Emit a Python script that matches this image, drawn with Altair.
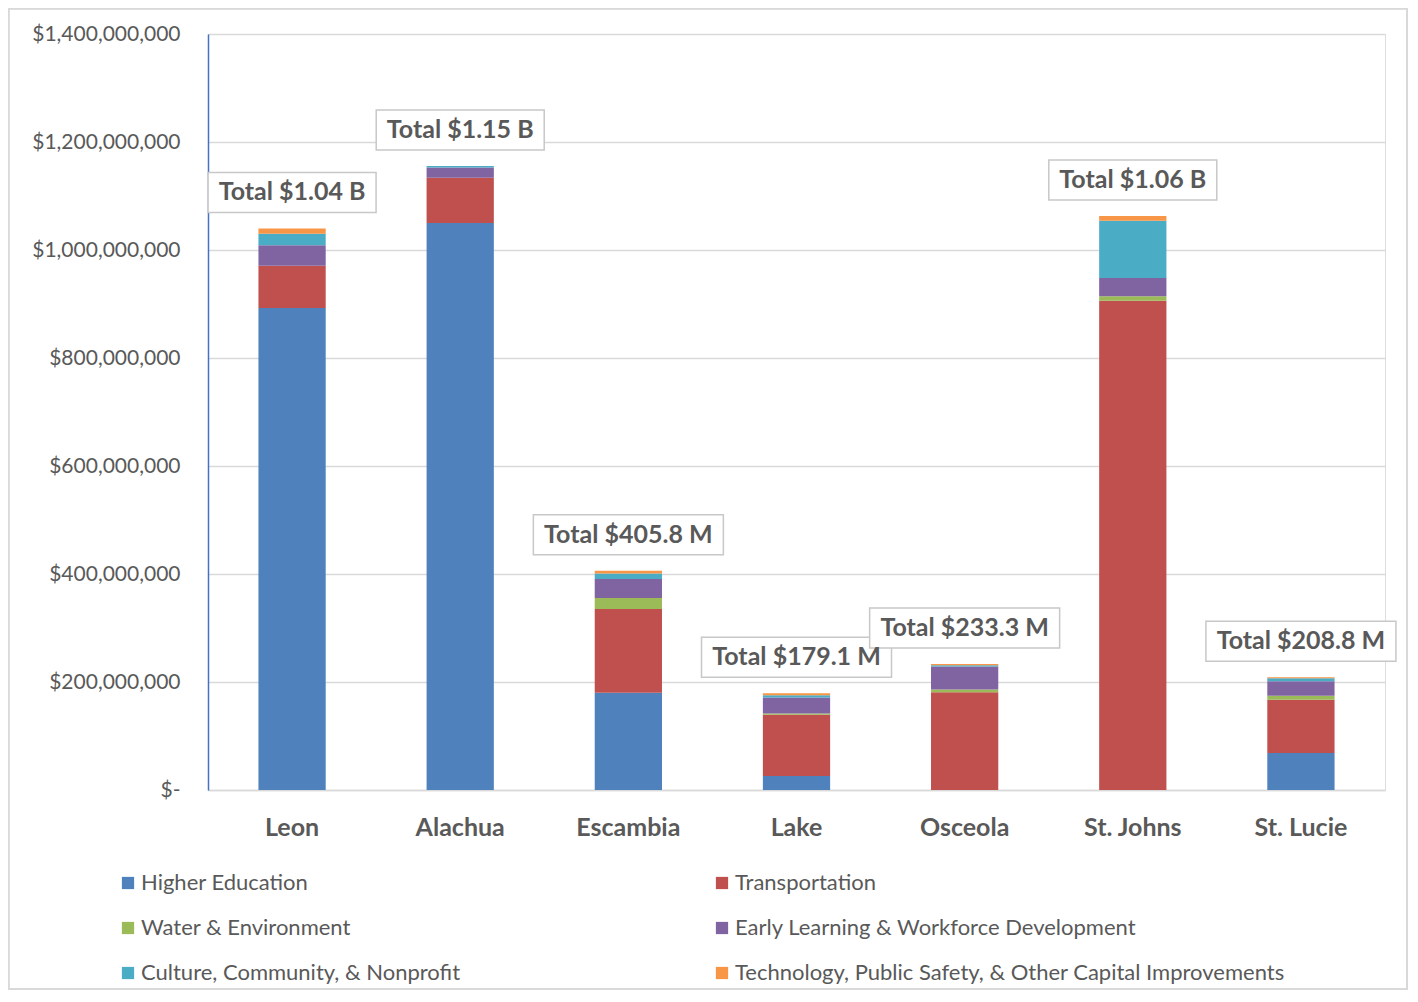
import altair as alt
import pandas as pd

counties = ["Leon", "Alachua", "Escambia", "Lake", "Osceola", "St. Johns", "St. Lucie"]
categories = [
    "Higher Education",
    "Transportation",
    "Water & Environment",
    "Early Learning & Workforce Development",
    "Culture, Community, & Nonprofit",
    "Technology, Public Safety, & Other Capital Improvements",
]
colors = ["#4F81BD", "#C0504D", "#9BBB59", "#8064A2", "#4BACC6", "#F79646"]

# values in millions of dollars
higher_ed = [892.5, 1050.0, 180.0, 26.0, 0.0, 0.0, 68.5]
transportation = [78.5, 84.0, 155.0, 113.5, 181.0, 906.0, 98.8]
water = [0.0, 0.0, 20.6, 2.0, 5.0, 8.3, 7.4]
early_learning = [38.0, 18.6, 35.0, 29.6, 42.6, 34.0, 26.6]
culture = [21.0, 3.0, 10.5, 4.5, 2.6, 106.0, 5.6]
technology = [10.0, 0.0, 4.7, 3.5, 2.1, 8.7, 1.9]
total_labels = ["Total $1.04 B", "Total $1.15 B", "Total $405.8 M", "Total $179.1 M",
                "Total $233.3 M", "Total $1.06 B", "Total $208.8 M"]

series = [higher_ed, transportation, water, early_learning, culture, technology]
rows = []
for ci, (cat, vals) in enumerate(zip(categories, series)):
    for county, v in zip(counties, vals):
        rows.append({"county": county, "category": cat, "order": ci, "value": v * 1e6})
df = pd.DataFrame(rows)

tot = []
for i, county in enumerate(counties):
    t = sum(s[i] for s in series) * 1e6
    tot.append({"county": county, "total": t, "label": total_labels[i],
                "long": len(total_labels[i]) > 13})
tdf = pd.DataFrame(tot)

W, H = 1177, 756
YMAX = 1.4e9
PX = YMAX / H  # dollars per pixel

FONT = "Lato"
GRAY = "#595959"

xenc = alt.X("county:N", sort=counties, title=None,
             scale=alt.Scale(paddingInner=0.6, paddingOuter=0.3),
             axis=alt.Axis(labelFontSize=25, labelFontWeight="bold", labelColor=GRAY,
                           labelFont=FONT, labelPadding=25, ticks=False, labelAngle=0,
                           domainColor="#d9d9d9", domainWidth=1.5))

bars = alt.Chart(df).mark_bar().encode(
    x=xenc,
    y=alt.Y("value:Q", stack="zero", title=None,
            scale=alt.Scale(domain=[0, YMAX], nice=False),
            axis=alt.Axis(values=[0, 2e8, 4e8, 6e8, 8e8, 1e9, 1.2e9, 1.4e9],
                          labelExpr="datum.value == 0 ? '$-' : '$' + format(datum.value, ',')",
                          labelFontSize=21, labelColor=GRAY, labelFont=FONT,
                          labelPadding=28, ticks=False,
                          domainColor="#4472C4", domainWidth=1.5,
                          grid=True, gridColor="#d9d9d9", gridWidth=1.5)),
    color=alt.Color("category:N", sort=categories,
                    scale=alt.Scale(domain=categories, range=colors),
                    legend=alt.Legend(title=None, orient="none", legendX=-91, legendY=838,
                                      direction="horizontal",
                                      columns=2, columnPadding=250, rowPadding=23,
                                      symbolType="square", symbolSize=150,
                                      symbolStrokeWidth=0,
                                      labelFontSize=22, labelColor=GRAY, labelFont=FONT,
                                      labelLimit=800, labelOffset=2)),
    order=alt.Order("order:Q", sort="ascending"),
)

base = alt.Chart(tdf).transform_calculate(
    ymid=f"datum.total + 36 * {PX}",
    ylo=f"datum.total + 16 * {PX}",
    yhi=f"datum.total + 56 * {PX}",
)

box_short = base.transform_filter("!datum.long").mark_rect(
    width=168, fill="white", stroke="#c8c8c8", strokeWidth=1.5
).encode(x=alt.X("county:N", sort=counties), y="ylo:Q", y2="yhi:Q")

box_long = base.transform_filter("datum.long").mark_rect(
    width=190, fill="white", stroke="#c8c8c8", strokeWidth=1.5
).encode(x=alt.X("county:N", sort=counties), y="ylo:Q", y2="yhi:Q")

labels = base.mark_text(fontSize=25, fontWeight="bold", font=FONT, color=GRAY,
                        baseline="middle", align="center").encode(
    x=alt.X("county:N", sort=counties), y="ymid:Q", text="label:N")

frame = alt.Chart(tdf).mark_rect(fill=None, stroke="#d9d9d9", strokeWidth=1.5).encode(
    x=alt.value(-199.5), x2=alt.value(W + 22), y=alt.value(-25.5), y2=alt.value(H + 199))

chart = alt.layer(frame, bars, box_short, box_long, labels).properties(
    width=W, height=H,
    autosize=alt.AutoSizeParams(type="none"),
    padding={"left": 200, "top": 26, "right": 24, "bottom": 202},
).configure_view(stroke=None).configure(background="white")

chart.save("out.html", embed_options={"renderer": "svg", "actions": False})
